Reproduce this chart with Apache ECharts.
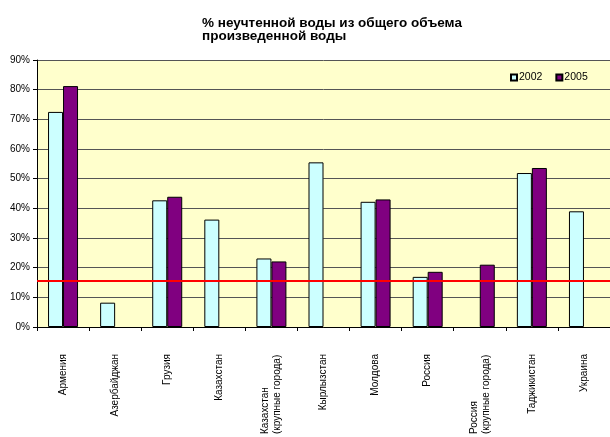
<!DOCTYPE html>
<html>
<head>
<meta charset="utf-8">
<script src="https://cdn.jsdelivr.net/npm/echarts@6/dist/echarts.min.js"></script>
<style>
html,body{margin:0;padding:0;background:#fff;}
#c{width:610px;height:437px;}
</style>
</head>
<body>
<div id="c"></div>
<script>
var titleText = '% неучтенной воды из общего объема\nпроизведенной воды';
var categories = ['Армения','Азербайджан','Грузия','Казахстан','Казахстан\n(крупные города)','Кырлызстан','Молдова','Россия','Россия\n(крупные города)','Таджикистан','Украина'];
var seriesNames = ['2002','2005'];
var values2002 = [72.5, 8.2, 42.7, 36.2, 23.1, 55.5, 42.2, 16.9, null, 51.9, 39.0];
var values2005 = [81.2, null, 43.9, null, 22.1, null, 43.0, 18.6, 21.0, 53.6, null];
var targetLine = 15.5;
var yTicks = [0,10,20,30,40,50,60,70,80,90];

var FONT = 'Liberation Sans, Arial, sans-serif';
var chart = echarts.init(document.getElementById('c'));
chart.setOption({
  backgroundColor: '#ffffff',
  animation: false,
  title: {
    text: titleText,
    left: 202,
    top: 17,
    padding: 0,
    textStyle: {fontFamily: FONT, fontSize: 13.5, fontWeight: 'bold', color: '#000', lineHeight: 13}
  },
  legend: {
    left: 510,
    top: 72,
    padding: 0,
    itemWidth: 6,
    itemHeight: 6,
    itemGap: 13,
    icon: 'rect',
    textStyle: {fontFamily: FONT, fontSize: 10.5, color: '#000', padding: [0,0,0,-3]},
    data: seriesNames
  },
  grid: {
    left: 37,
    top: 60,
    width: 575,
    height: 270,
    show: true,
    backgroundColor: '#FFFFCC',
    borderWidth: 0,
    containLabel: false
  },
  xAxis: {
    type: 'category',
    data: categories,
    boundaryGap: true,
    axisLine: {show: true, lineStyle: {color: '#000', width: 1}},
    axisTick: {show: true, length: 4, lineStyle: {color: '#000'}},
    axisLabel: {
      rotate: 90,
      margin: 27,
      interval: 0,
      fontFamily: FONT,
      fontSize: 10,
      color: '#000',
      lineHeight: 12,
      formatter: function (v) {
        if (v.indexOf('\n') < 0) return v;
        return v.split('\n').map(function (s) { return '{l|' + s + '}'; }).join('\n');
      },
      rich: {l: {width: 80, align: 'left', fontFamily: FONT, fontSize: 10, color: '#000', lineHeight: 12}}
    },
    splitLine: {show: false}
  },
  yAxis: {
    type: 'value',
    min: 0,
    max: 90,
    interval: 10,
    axisLine: {show: true, lineStyle: {color: '#000', width: 1}},
    axisTick: {show: true, length: 4, lineStyle: {color: '#000'}},
    axisLabel: {
      margin: 7,
      fontFamily: FONT,
      fontSize: 10,
      color: '#000',
      formatter: function (v) { return yTicks.indexOf(v) >= 0 ? v + '%' : ''; }
    },
    splitLine: {show: true, lineStyle: {color: '#555', width: 1}}
  },
  series: [
    {
      name: seriesNames[0],
      type: 'bar',
      data: values2002,
      barWidth: 15,
      barGap: '0%',
      itemStyle: {color: '#CCFFFF', borderColor: '#000', borderWidth: 1},
      markLine: {
        silent: true,
        symbol: 'none',
        label: {show: false},
        lineStyle: {color: '#FF0000', width: 2, type: 'solid'},
        data: [{yAxis: targetLine}]
      }
    },
    {
      name: seriesNames[1],
      type: 'bar',
      data: values2005,
      barWidth: 15,
      barGap: '0%',
      itemStyle: {color: '#800080', borderColor: '#000', borderWidth: 1}
    }
  ]
});
</script>
</body>
</html>
